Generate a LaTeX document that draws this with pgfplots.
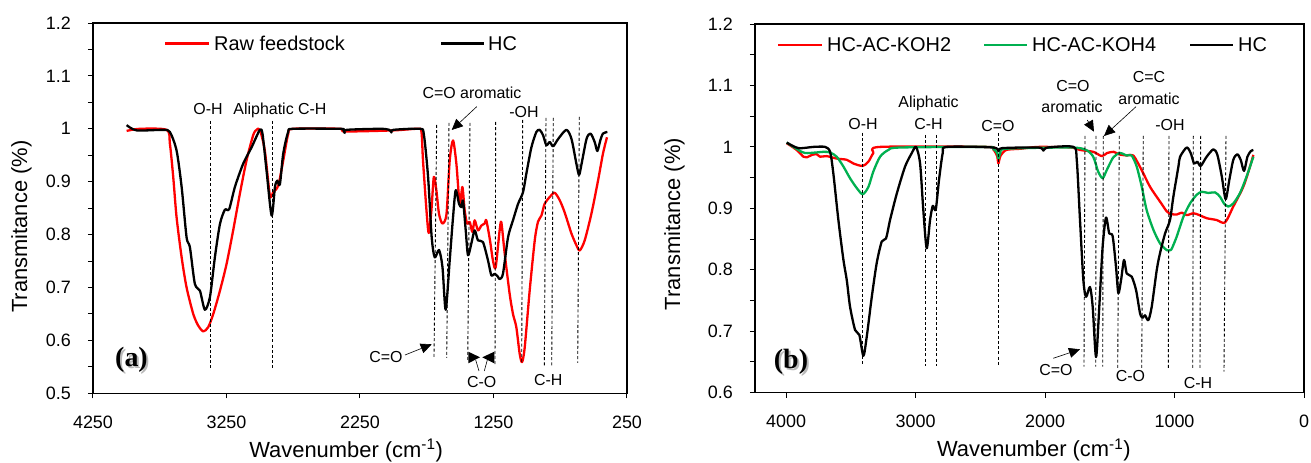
\documentclass[border=0pt]{standalone}
\usepackage{fontspec}
\setmainfont{Liberation Sans}
\newfontfamily\serifb{Liberation Serif}
\usepackage{pgfplots}
\pgfplotsset{compat=1.18}
\usetikzlibrary{arrows.meta}
\definecolor{myred}{RGB}{255,0,0}
\definecolor{mygreen}{RGB}{0,176,80}
\newcommand{\fs}[1]{\fontsize{#1}{#1}\selectfont}

\pgfplotstableread{
w T
3998 1.007
3923 0.997
3724 0.998
3674 0.994
3624 0.959
3586 0.890
3549 0.795
3524 0.776
3487 0.707
3449 0.694
3412 0.658
3374 0.682
3337 0.757
3299 0.820
3262 0.847
3230 0.848
3187 0.890
3125 0.934
3062 0.965
3000 0.998
2980 0.990
2950 0.921
2912 0.836
2887 0.890
2870 0.902
2850 0.895
2825 0.953
2788 0.994
2751 1.000
2400 1.000
2375 0.998
2364 0.992
2350 0.998
2100 1.000
2030 0.998
2014 0.993
2000 0.998
1802 1.000
1772 0.990
1740 0.909
1713 0.795
1690 0.757
1658 0.771
1632 0.738
1608 0.658
1578 0.751
1553 0.833
1533 0.884
1508 0.858
1490 0.852
1478 0.864
1458 0.808
1441 0.761
1416 0.783
1391 0.808
1366 0.789
1329 0.786
1291 0.751
1266 0.723
1241 0.726
1216 0.720
1204 0.716
1179 0.726
1141 0.795
1104 0.827
1066 0.858
1029 0.880
1004 0.915
966 0.965
929 0.994
904 0.998
879 0.988
854 0.969
829 0.975
803 0.967
765 0.981
704 0.998
666 0.981
629 0.934
609 0.913
590 0.934
553 0.981
523 0.991
492 0.975
472 0.958
450 0.978
430 0.991
397 0.994
}\hcA

\pgfplotstableread{
w T
3998 0.996
3900 1.000
3698 0.998
3674 0.972
3649 0.909
3624 0.833
3586 0.757
3549 0.700
3499 0.650
3462 0.628
3424 0.617
3387 0.625
3349 0.650
3299 0.694
3249 0.745
3200 0.808
3150 0.877
3100 0.940
3050 0.988
3025 0.998
3000 0.998
2963 0.959
2925 0.874
2900 0.880
2862 0.893
2825 0.940
2788 0.990
2751 1.000
2400 1.000
2364 0.995
2000 0.997
1820 1.000
1790 0.995
1778 0.940
1752 0.846
1735 0.803
1715 0.846
1697 0.909
1678 0.884
1658 0.839
1632 0.821
1602 0.839
1578 0.940
1553 0.978
1528 0.934
1503 0.858
1483 0.890
1466 0.846
1448 0.821
1428 0.824
1408 0.805
1391 0.827
1366 0.808
1341 0.817
1316 0.821
1304 0.827
1278 0.792
1254 0.751
1234 0.738
1204 0.808
1191 0.823
1166 0.764
1129 0.688
1104 0.650
1079 0.625
1054 0.575
1036 0.559
1016 0.587
979 0.694
941 0.789
917 0.824
891 0.836
867 0.858
829 0.871
792 0.879
754 0.865
717 0.842
666 0.802
629 0.780
604 0.770
567 0.789
517 0.839
467 0.902
430 0.953
400 0.984
}\rawA

\pgfplotstableread{
w T
3995 1.007
3905 0.998
3789 1.000
3699 1.000
3660 0.992
3635 0.957
3596 0.881
3557 0.816
3531 0.783
3506 0.740
3467 0.702
3434 0.694
3403 0.660
3377 0.691
3338 0.756
3300 0.811
3261 0.846
3228 0.851
3197 0.881
3145 0.924
3081 0.968
3029 0.990
2996 1.000
2965 0.973
2940 0.897
2914 0.835
2888 0.881
2867 0.904
2844 0.898
2819 0.946
2790 0.990
2759 1.000
2400 0.999
2360 0.993
2330 0.998
2050 0.999
2013 0.994
1980 0.999
1781 1.000
1755 0.979
1730 0.881
1704 0.783
1683 0.756
1653 0.772
1632 0.740
1606 0.658
1581 0.740
1555 0.838
1529 0.885
1504 0.859
1478 0.855
1452 0.805
1434 0.762
1413 0.783
1390 0.816
1369 0.794
1331 0.789
1297 0.767
1266 0.729
1246 0.722
1228 0.726
1202 0.718
1176 0.740
1137 0.800
1112 0.827
1073 0.859
1035 0.881
1009 0.919
970 0.968
957 0.984
906 0.999
875 0.990
849 0.973
824 0.976
798 0.969
752 0.984
700 0.996
669 0.987
635 0.952
605 0.915
577 0.946
546 0.979
515 0.988
489 0.979
463 0.961
437 0.984
411 0.993
391 0.995
}\hcB

\pgfplotstableread{
w T
3995 1.006
3918 0.995
3866 0.984
3840 0.983
3800 0.987
3763 0.988
3737 0.984
3686 0.985
3609 0.981
3531 0.979
3480 0.973
3408 0.969
3364 0.976
3326 0.990
3274 1.000
2450 1.000
2400 0.996
2370 0.985
2360 0.973
2345 0.985
2300 0.995
2190 0.997
2050 1.000
1800 0.999
1730 0.995
1628 0.992
1562 0.985
1521 0.990
1470 0.992
1430 0.988
1369 0.986
1318 0.986
1253 0.962
1189 0.935
1112 0.911
1060 0.895
1035 0.891
983 0.890
944 0.893
906 0.889
854 0.892
808 0.889
752 0.884
675 0.881
610 0.877
546 0.903
469 0.935
417 0.968
391 0.987
}\kohTwo

\pgfplotstableread{
w T
3995 1.007
3905 0.995
3853 0.990
3763 0.991
3712 0.992
3660 0.991
3609 0.984
3557 0.968
3506 0.949
3454 0.933
3408 0.923
3364 0.935
3326 0.960
3274 0.984
3210 0.995
3120 0.999
2450 1.000
2400 0.997
2370 0.990
2360 0.981
2345 0.990
2300 0.997
1800 0.999
1683 0.995
1628 0.984
1590 0.960
1555 0.949
1524 0.962
1473 0.983
1421 0.990
1369 0.986
1331 0.986
1292 0.968
1253 0.935
1215 0.897
1163 0.865
1112 0.843
1060 0.832
1035 0.832
1022 0.834
983 0.854
932 0.886
880 0.908
829 0.922
790 0.927
739 0.925
687 0.926
649 0.919
618 0.908
585 0.903
546 0.908
494 0.925
443 0.952
391 0.984
}\kohFour

\pgfplotsset{ftir/.style={
  scale only axis,
  axis line style={line width=1.2bp},
  tick align=outside, xtick pos=bottom, ytick pos=left,
  major tick length=5bp, minor tick length=5bp,
  tick style={black, line width=1bp},
  minor y tick num=1,
  x dir=reverse,
  /pgf/number format/assume math mode=true,
  /pgf/number format/1000 sep={},
  xticklabel style={font=\fs{18}, anchor=north, inner sep=0pt, yshift=-17bp},
  yticklabel style={font=\fs{18}, anchor=east, inner sep=0pt, xshift=-17bp},
  label style={font=\fs{22}},
  xlabel={Wavenumber (cm\textsuperscript{-1})},
  ylabel={Transmitance (\%)},
  every axis plot/.append style={line width=2.3bp, smooth, tension=0.45, line join=round},
}}

\begin{document}
\begin{tikzpicture}
\path[use as bounding box] (0,0) rectangle (1311bp,463bp);

\begin{axis}[ftir,
  at={(93bp,69.7bp)}, anchor=south west,
  width=534bp, height=370.3bp,
  xmin=250, xmax=4250, ymin=0.5, ymax=1.2,
  xtick={250,1250,2250,3250,4250},
  ytick={0.5,0.6,0.7,0.8,0.9,1,1.1,1.2},
  xlabel style={at={(axis description cs:0.474,-0.1545)}, anchor=center},
  ylabel style={at={(axis description cs:-0.1339,0.45)}, anchor=center, rotate=0},
]
\addplot[myred] table[x=w,y=T] {\rawA};
\addplot[black] table[x=w,y=T] {\hcA};
\end{axis}

\begin{axis}[ftir,
  at={(755bp,70.3bp)}, anchor=south west,
  width=549bp, height=368.7bp,
  xmin=0, xmax=4240, ymin=0.6, ymax=1.2,
  xtick={0,1000,2000,3000,4000},
  ytick={0.6,0.7,0.8,0.9,1,1.1,1.2},
  xlabel style={at={(axis description cs:0.508,-0.155)}, anchor=center},
  ylabel style={at={(axis description cs:-0.1466,0.4575)}, anchor=center},
]
\addplot[myred] table[x=w,y=T] {\kohTwo};
\addplot[mygreen] table[x=w,y=T] {\kohFour};
\addplot[black] table[x=w,y=T] {\hcB};
\end{axis}

% annotations in pixel coordinates of the reference
\begin{scope}[x=1bp,y=-1bp,yshift=463bp]
\tikzset{dl/.style={black, line width=0.9bp, dash pattern=on 3bp off 2.2bp},
  an/.style={font=\fs{16}, inner sep=0pt, anchor=base},
  ar/.style={line width=0.6bp, -{Triangle[length=11bp,width=10bp]}}}
\newcommand{\ann}[3]{\node[an] at (#1,#2+5.7) {#3};}
% legend (a)
\draw[myred, line width=2.5bp] (165,43.3) -- (209,43.3);
\node[font=\fs{20}, inner sep=0pt, anchor=base west] at (214,50.7) {Raw feedstock};
\draw[black, line width=2.5bp] (441,43.3) -- (484,43.3);
\node[font=\fs{20}, inner sep=0pt, anchor=base west] at (488,50.7) {HC};
% legend (b)
\draw[myred, line width=2.5bp] (778,45) -- (822,45);
\node[font=\fs{20}, inner sep=0pt, anchor=base west] at (827,51.7) {HC-AC-KOH2};
\draw[mygreen, line width=2.5bp] (984,45) -- (1027,45);
\node[font=\fs{20}, inner sep=0pt, anchor=base west] at (1032,51.7) {HC-AC-KOH4};
\draw[black, line width=2.5bp] (1190,45) -- (1233,45);
\node[font=\fs{20}, inner sep=0pt, anchor=base west] at (1238,51.7) {HC};

% dashed lines (a)
\draw[dl] (210.4,121) -- (210.4,369);
\draw[dl] (272.5,121) -- (272.5,369);
\draw[dl] (436.7,125) -- (434,358);
\draw[dl] (449,123) -- (446.7,358);
\draw[dl] (470,123) -- (467.7,360);
\draw[dl] (495.7,122) -- (495,365);
\draw[dl] (522.7,120) -- (521.7,363);
\draw[dl] (546,118) -- (544.3,367);
\draw[dl] (553.3,118) -- (551.7,367);
\draw[dl] (579.3,117) -- (577.7,363);
% labels (a)
\ann{208}{109}{O-H}
\ann{280}{109}{Aliphatic C-H}
\ann{472}{92.7}{C=O aromatic}
\draw[ar] (476.7,106.7) -- (451.7,130);
\ann{524}{111.7}{-OH}
\ann{386}{356.7}{C=O}
\draw[ar] (405,355) -- (431.7,344.3);
\ann{481.7}{381.7}{C-O}
\ann{548.3}{380}{C-H}
\fill (468.3,351.7) -- (468.3,363.3) -- (480,357.3) -- cycle;
\fill (494.3,351.7) -- (494.3,363.3) -- (482.3,357.3) -- cycle;
\draw[line width=0.6bp] (475.7,360) -- (479,371);
\draw[line width=0.6bp] (487.3,360) -- (484.3,371);
\node[font=\serifb\bfseries\fs{28}, text=gray!55, inner sep=0pt] at (133.5,361.5) {(a)};
\node[font=\serifb\bfseries\fs{28}, inner sep=0pt] at (131.5,359.5) {(a)};

% dashed lines (b)
\draw[dl] (862.7,132.7) -- (862.7,366.7);
\draw[dl] (925.3,135) -- (925.3,366);
\draw[dl] (936,135) -- (936,366);
\draw[dl] (998.3,133) -- (998.3,366.7);
\draw[dl] (1085,136) -- (1084,366.7);
\draw[dl] (1096,136) -- (1095.7,366.7);
\draw[dl] (1103.3,136) -- (1102.7,366.7);
\draw[dl] (1119.3,136) -- (1117.7,368.3);
\draw[dl] (1143.3,136) -- (1141.7,368.3);
\draw[dl] (1169,136) -- (1168.3,368.3);
\draw[dl] (1193.3,136) -- (1192.7,370);
\draw[dl] (1200.7,136) -- (1200,370);
\draw[dl] (1226,136) -- (1224,371.7);
% labels (b)
\ann{863}{124}{O-H}
\ann{928.5}{101.7}{Aliphatic}
\ann{928.5}{124}{C-H}
\ann{998}{125.7}{C=O}
\ann{1073}{86}{C=O}
\ann{1072}{107.3}{aromatic}
\ann{1149}{77.3}{C=C}
\ann{1149}{99.3}{aromatic}
\ann{1170}{125}{-OH}
\ann{1056}{370}{C=O}
\ann{1130.5}{376}{C-O}
\ann{1198}{382.7}{C-H}
\draw[ar] (1087.3,120) -- (1094,131.7);
\draw[ar] (1136,106.7) -- (1104,136);
\draw[ar] (1053.3,358.3) -- (1080,349.3);
\node[font=\serifb\bfseries\fs{28}, text=gray!55, inner sep=0pt] at (793,363.7) {(b)};
\node[font=\serifb\bfseries\fs{28}, inner sep=0pt] at (791,361.7) {(b)};
\end{scope}
\end{tikzpicture}
\end{document}
